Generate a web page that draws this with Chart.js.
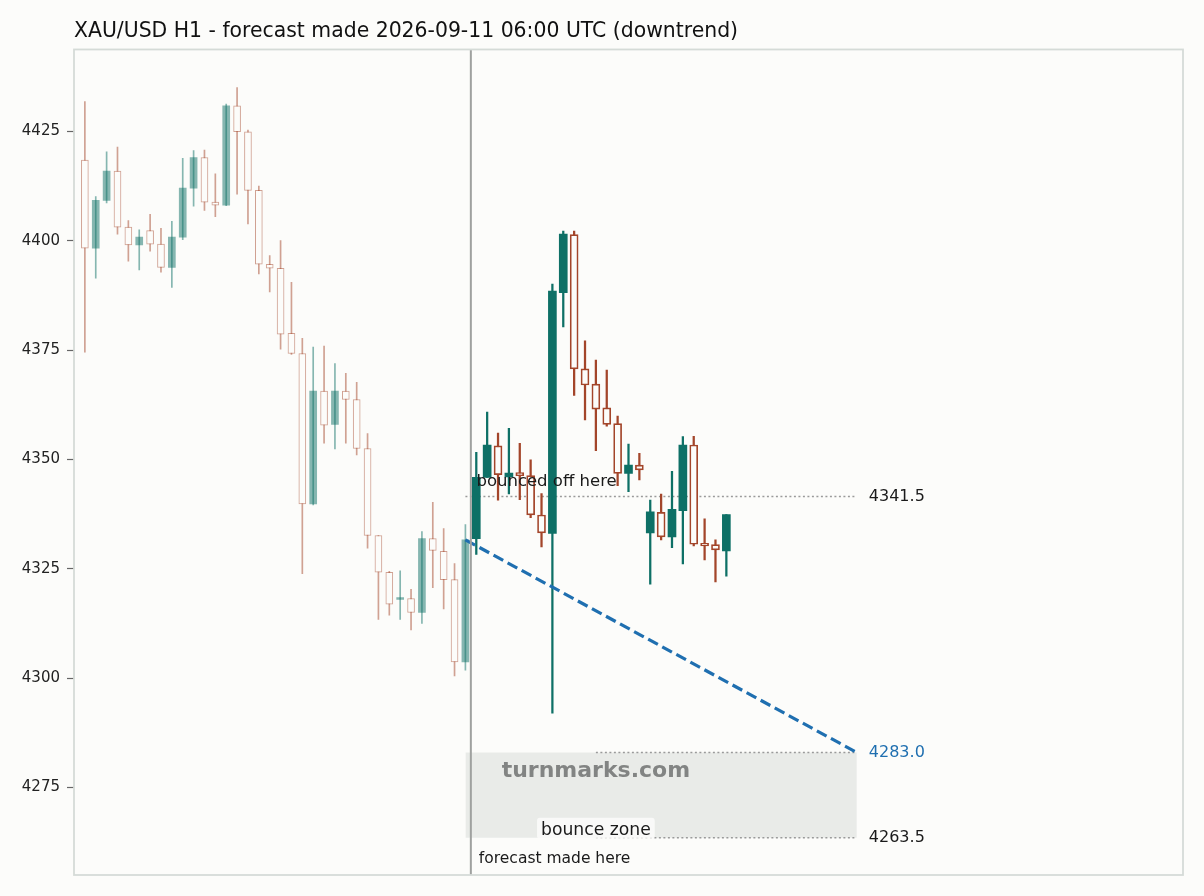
<!DOCTYPE html>
<html>
<head>
<meta charset="utf-8">
<title>XAU/USD H1 forecast</title>
<script src="https://cdn.jsdelivr.net/npm/chart.js@4.4.1/dist/chart.umd.min.js"></script>
<style>
  html, body { margin: 0; padding: 0; background: #fcfcfa; }
  #wrap { width: 1204px; height: 896px; }
</style>
</head>
<body>
<div id="wrap"><canvas id="chart" width="1204" height="896"></canvas></div>
<script>
// history candles (before the forecast point), index 0..35
const histOpen  = [4418.4, 4398.3, 4409.2, 4415.9, 4403.1, 4399.0, 4402.3, 4399.2, 4393.9, 4400.8, 4412.0, 4419.0,
                   4408.8, 4408.1, 4430.8, 4424.9, 4411.5, 4394.6, 4393.7, 4378.8, 4374.2, 4339.8, 4365.6, 4358.0,
                   4365.6, 4363.7, 4352.5, 4332.6, 4324.2, 4318.0, 4318.2, 4315.0, 4331.9, 4329.0, 4322.5, 4303.7];
const histHigh  = [4431.8, 4410.1, 4420.3, 4421.4, 4404.6, 4402.5, 4406.0, 4402.8, 4404.4, 4418.8, 4420.6, 4420.7,
                   4415.3, 4431.2, 4435.0, 4425.3, 4412.5, 4396.6, 4400.0, 4390.5, 4377.7, 4375.7, 4375.9, 4371.9,
                   4369.7, 4367.6, 4355.9, 4332.6, 4324.4, 4324.5, 4320.3, 4333.5, 4340.2, 4334.2, 4326.2, 4335.1];
const histLow   = [4374.5, 4391.4, 4408.6, 4401.5, 4395.3, 4393.3, 4397.6, 4392.8, 4389.3, 4400.2, 4407.9, 4406.9,
                   4405.5, 4408.0, 4410.6, 4403.8, 4392.4, 4388.3, 4375.2, 4374.0, 4323.9, 4339.6, 4353.7, 4352.4,
                   4353.7, 4351.0, 4329.7, 4313.4, 4314.4, 4313.4, 4311.0, 4312.5, 4320.7, 4315.8, 4300.5, 4301.8];
const histClose = [4398.3, 4409.2, 4415.9, 4403.1, 4399.0, 4400.8, 4399.2, 4393.9, 4400.8, 4412.0, 4419.0, 4408.8,
                   4408.1, 4430.8, 4424.9, 4411.5, 4394.6, 4393.7, 4378.6, 4374.2, 4339.8, 4365.6, 4357.8, 4365.6,
                   4363.7, 4352.5, 4332.6, 4324.2, 4316.9, 4318.4, 4315.0, 4331.9, 4329.2, 4322.5, 4303.7, 4331.6];

// candles after the forecast point, index 36..59
const fcOpen  = [4331.9, 4345.9, 4353.1, 4346.0, 4347.0, 4346.3, 4337.3, 4333.1, 4388.1, 4401.4, 4370.7, 4367.2,
                 4361.8, 4358.2, 4346.8, 4348.7, 4333.2, 4337.9, 4332.3, 4338.3, 4353.3, 4330.8, 4330.5, 4329.1];
const fcHigh  = [4351.6, 4360.8, 4356.0, 4357.1, 4353.7, 4349.9, 4342.2, 4390.1, 4402.2, 4402.2, 4377.1, 4372.7,
                 4370.4, 4359.9, 4353.5, 4351.4, 4340.7, 4342.1, 4347.3, 4355.2, 4355.3, 4336.4, 4331.6, 4337.4];
const fcLow   = [4328.3, 4345.9, 4340.7, 4342.1, 4340.8, 4336.7, 4330.0, 4292.0, 4380.3, 4364.6, 4359.0, 4352.0,
                 4357.6, 4344.0, 4342.6, 4345.3, 4321.5, 4331.6, 4329.8, 4326.1, 4330.2, 4327.0, 4322.0, 4323.3];
const fcClose = [4345.9, 4353.3, 4346.5, 4346.9, 4346.3, 4337.3, 4333.2, 4388.5, 4401.5, 4370.7, 4367.0, 4361.5,
                 4358.0, 4346.8, 4348.7, 4347.6, 4338.0, 4332.3, 4338.6, 4353.3, 4330.6, 4330.2, 4329.3, 4337.4];

const forecastAt = 35.5;            // vertical "forecast made here" line
const pathX = [35, 71];             // forecast path (from last close to target)
const pathY = [4331.6, 4283.0];
const levelValues = [4341.5, 4283.0, 4263.5];
const levelFrom = [35, 47, 47];
const levelTo = 71;
const zoneFrom = 35;
const zoneTo = 71;
const zoneHigh = 4283.0;
const zoneLow = 4263.5;
const zoneLabelAt = 47;
const yTicks = [4275, 4300, 4325, 4350, 4375, 4400, 4425];

const UP = '#0e7066';
const DOWN = '#a3452a';
const BG = '#fcfcfa';
const FADE = 'rgba(14,112,102,0.5)';
const FADE_DOWN = 'rgba(163,69,42,0.5)';

Chart.defaults.font.family = "'DejaVu Sans', sans-serif";

const histIdx = histOpen.map((_, i) => i);
const fcIdx = fcOpen.map((_, i) => histOpen.length + i);

function wicks (idx, low, high) {
  return idx.map((x, i) => ({ x, y: [low[i], high[i]] }));
}
function bodies (idx, open, close) {
  return idx.map((x, i) => ({ x, y: [open[i], close[i]] }));
}
function isUp (ctx) {
  const v = ctx.raw && ctx.raw.y;
  return v ? v[1] >= v[0] : true;
}
function isUpCandle (ctx, open, close) {
  const i = ctx.dataIndex;
  return close[i] >= open[i];
}

const datasets = [
  // bounce zone band
  {
    type: 'line', order: 9,
    data: [{ x: zoneFrom, y: zoneHigh }, { x: zoneTo, y: zoneHigh }],
    borderColor: 'rgba(0,0,0,0)', pointRadius: 0, fill: '+1', backgroundColor: '#e9ebe8'
  },
  {
    type: 'line', order: 9,
    data: [{ x: zoneFrom, y: zoneLow }, { x: zoneTo, y: zoneLow }],
    borderColor: 'rgba(0,0,0,0)', pointRadius: 0, fill: false
  },
  // dotted levels
  ...levelValues.map((v, i) => ({
    type: 'line', order: 8,
    data: [{ x: levelFrom[i], y: v }, { x: levelTo, y: v }],
    borderColor: '#9a9a9a', borderWidth: 1.5, borderDash: [2, 2.5], pointRadius: 0, fill: false
  })),
  // history
  {
    type: 'bar', order: 7, grouped: false, barThickness: 1,
    data: wicks(histIdx, histLow, histHigh),
    backgroundColor: ctx => isUpCandle(ctx, histOpen, histClose) ? FADE : FADE_DOWN
  },
  {
    type: 'bar', order: 6, grouped: false, barThickness: 7, borderSkipped: false,
    data: bodies(histIdx, histOpen, histClose),
    backgroundColor: ctx => isUp(ctx) ? FADE : BG,
    borderColor: FADE_DOWN,
    borderWidth: ctx => isUp(ctx) ? 0 : 1
  },
  // forecast period
  {
    type: 'bar', order: 5, grouped: false, barThickness: 1.6,
    data: wicks(fcIdx, fcLow, fcHigh),
    backgroundColor: ctx => isUpCandle(ctx, fcOpen, fcClose) ? UP : DOWN
  },
  {
    type: 'bar', order: 4, grouped: false, barThickness: 8, borderSkipped: false,
    data: bodies(fcIdx, fcOpen, fcClose),
    backgroundColor: ctx => isUp(ctx) ? UP : BG,
    borderColor: DOWN,
    borderWidth: ctx => isUp(ctx) ? 0 : 1.7
  },
  // forecast path
  {
    type: 'line', order: 1,
    data: pathX.map((x, i) => ({ x, y: pathY[i] })),
    borderColor: '#1f6fb0', borderWidth: 3.2, borderDash: [11, 5], pointRadius: 0, fill: false
  }
];

// texts, marker line and frame
const overlay = {
  id: 'overlay',
  afterDatasetsDraw (chart) {
    const { ctx, chartArea: a, scales: { x, y } } = chart;
    ctx.save();
    // forecast moment
    const fx = x.getPixelForValue(forecastAt);
    ctx.strokeStyle = '#9fa19f';
    ctx.lineWidth = 2;
    ctx.beginPath();
    ctx.moveTo(fx, a.top);
    ctx.lineTo(fx, a.bottom);
    ctx.stroke();

    // watermark
    const zx = x.getPixelForValue(zoneLabelAt);
    ctx.font = "bold 22px 'DejaVu Sans'";
    ctx.fillStyle = 'rgba(112,114,113,0.85)';
    ctx.textAlign = 'center';
    ctx.textBaseline = 'alphabetic';
    ctx.fillText('turnmarks.com', zx, y.getPixelForValue(zoneHigh) + 24);

    // bounce zone label
    ctx.font = "17.2px 'DejaVu Sans'";
    const zy = y.getPixelForValue(zoneLow);
    const w = ctx.measureText('bounce zone').width + 8;
    ctx.fillStyle = 'rgba(252,252,250,0.85)';
    ctx.beginPath();
    ctx.roundRect(zx - w / 2, zy - 20, w, 21, 3);
    ctx.fill();
    ctx.fillStyle = '#1a1a1a';
    ctx.fillText('bounce zone', zx, zy - 3);

    // bounced off here
    ctx.font = "16.5px 'DejaVu Sans'";
    ctx.textAlign = 'left';
    ctx.fillText('bounced off here', x.getPixelForValue(levelFrom[0]) + 11, y.getPixelForValue(levelValues[0]) - 11);

    // forecast made here
    ctx.font = "15.5px 'DejaVu Sans'";
    ctx.fillText('forecast made here', fx + 8, a.bottom - 12);

    // level values on the right
    ctx.font = "16px 'DejaVu Sans'";
    ctx.textBaseline = 'middle';
    const lx = x.getPixelForValue(levelTo) + 12;
    levelValues.forEach(v => {
      ctx.fillStyle = v === pathY[1] ? '#1f6fb0' : '#1a1a1a';
      ctx.fillText(v.toFixed(1), lx, y.getPixelForValue(v));
    });
    ctx.restore();
  },
  afterDraw (chart) {
    const { ctx, chartArea: a } = chart;
    ctx.save();
    ctx.strokeStyle = '#d5dbd7';
    ctx.lineWidth = 1.8;
    ctx.strokeRect(a.left, a.top, a.right - a.left, a.bottom - a.top);
    ctx.restore();
  }
};

new Chart(document.getElementById('chart'), {
  type: 'bar',
  data: { datasets },
  plugins: [overlay],
  options: {
    responsive: false,
    animation: false,
    events: [],
    layout: { padding: { left: 0, right: 21, top: 0, bottom: 21 } },
    plugins: {
      legend: { display: false },
      tooltip: { enabled: false },
      title: {
        display: true,
        text: 'XAU/USD H1 - forecast made 2026-09-11 06:00 UTC (downtrend)',
        align: 'start',
        fullSize: false,
        color: '#111',
        font: { size: 20.4, weight: 'normal' },
        padding: { top: 19, bottom: 6 }
      }
    },
    scales: {
      x: { type: 'linear', min: -1, max: 101, offset: false, display: false },
      y: {
        min: 4255,
        max: 4443.7,
        afterFit: s => { s.width = 74; },
        afterBuildTicks: s => { s.ticks = yTicks.map(v => ({ value: v })); },
        ticks: { color: '#222', padding: 7, font: { size: 15 }, callback: v => String(v) },
        grid: { drawOnChartArea: false, drawTicks: true, tickLength: 7, tickColor: '#666', tickWidth: 1.2 },
        border: { display: false }
      }
    }
  }
});
</script>
</body>
</html>
